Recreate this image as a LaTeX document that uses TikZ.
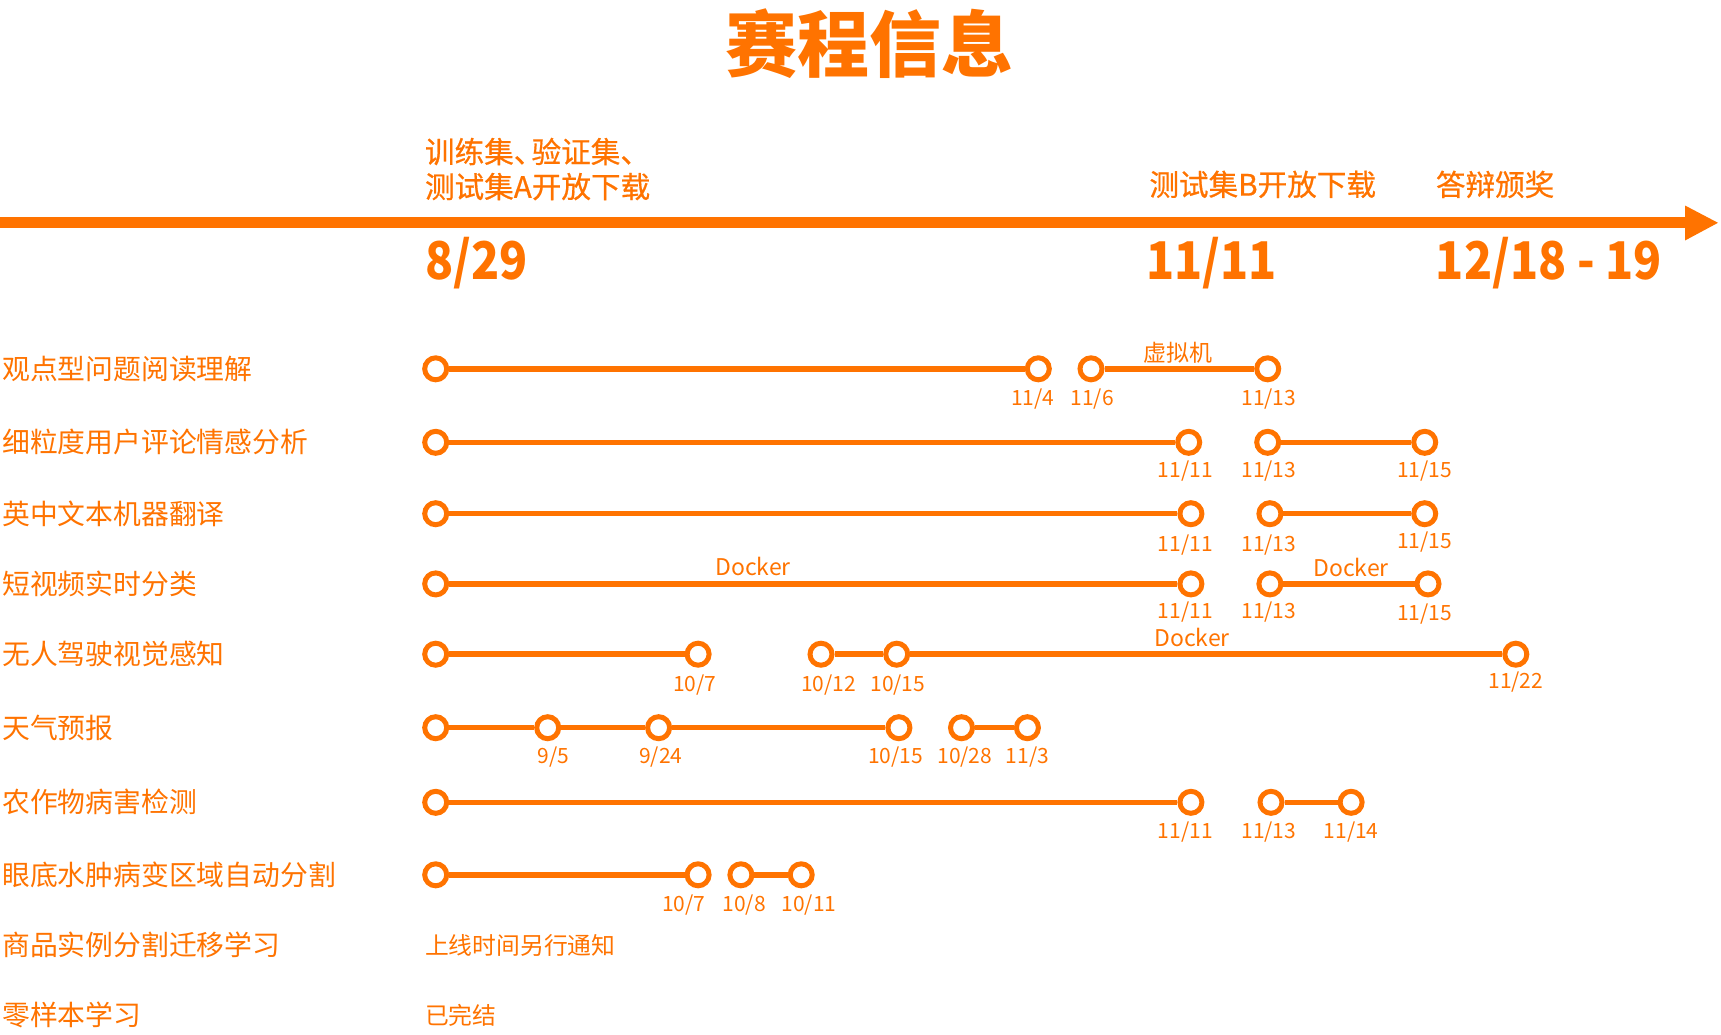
\documentclass[tikz,border=0pt]{standalone}
\usepackage{fontspec}
\setmainfont{Noto Sans CJK SC}
\newfontfamily\cjkmed{Noto Sans CJK SC}[FakeBold=0.6]
\definecolor{org}{RGB}{255,115,0}
\tikzset{
  dot/.style={circle, draw=org, line width=5pt, fill=white, minimum size=22pt, inner sep=0pt},
  seg/.style={draw=org, line width=5.5pt},
  rowlab/.style={anchor=west, inner sep=0pt, text=org, font=\fontsize{27.8}{30}\selectfont},
  headlab/.style={anchor=west, inner sep=0pt, text=org, font=\cjkmed\fontsize{29.6}{32}\selectfont},
  bigdate/.style={anchor=west, inner sep=0pt, text=org, font=\bfseries\fontsize{52}{56}\selectfont},
  datelab/.style={inner sep=0pt, text=org, font=\fontsize{21}{23}\selectfont},
  notelab/.style={inner sep=0pt, text=org, font=\fontsize{23}{25}\selectfont},
  statlab/.style={anchor=west, inner sep=0pt, text=org, font=\fontsize{23.8}{25}\selectfont},
}
\newcommand{\narrow}[1]{\scalebox{0.89}[1]{#1}}
\begin{document}
\begin{tikzpicture}[x=1pt,y=-1pt]
\useasboundingbox (0,0) rectangle (1721,1034);

% title
\node[inner sep=0pt, text=org, font=\bfseries\fontsize{72}{76}\selectfont] (title) at (869,44) {赛程信息};

% main timeline arrow
\coordinate (axs) at (0,222.8);
\coordinate (axe) at (1690,222.8);
\draw[org, line width=11pt] (axs) -- (axe);
\fill[org] (1685,205.5) -- (1718,222.8) -- (1685,240.5) -- cycle;

\node[headlab] (h1a) at (424.8,151.5) {训练集、\kern-0.4em 验证集、};
\node[headlab] (h1b) at (424.8,186.6) {测试集A开放下载};
\node[headlab] (h2) at (1149.2,184.4) {测试集B开放下载};
\node[headlab] (h3) at (1435.7,184.4) {答辩颁奖};

\node[bigdate] (d1) at (424.8,263.4) {\narrow{8/29}};
\node[bigdate] (d2) at (1145.9,263.4) {\narrow{11/11}};
\node[bigdate] (d3) at (1435.7,263.4) {\narrow{12/18 - 19}};

% row labels
\node[rowlab] (l1) at (2.2,368.8) {观点型问题阅读理解};
\node[rowlab] (l2) at (2.2,442.3) {细粒度用户评论情感分析};
\node[rowlab] (l3) at (2.2,513.7) {英中文本机器翻译};
\node[rowlab] (l4) at (2.2,583.9) {短视频实时分类};
\node[rowlab] (l5) at (2.2,654.2) {无人驾驶视觉感知};
\node[rowlab] (l6) at (2.2,727.7) {天气预报};
\node[rowlab] (l7) at (2.2,802.3) {农作物病害检测};
\node[rowlab] (l8) at (2.2,874.8) {眼底水肿病变区域自动分割};
\node[rowlab] (l9) at (2.2,945.0) {商品实例分割迁移学习};
\node[rowlab] (l10) at (2.2,1015.3) {零样本学习};

% row 1
\node[dot] (r1a) at (435.7,368.8) {};
\node[dot] (r1b) at (1038.3,368.8) {};
\node[dot] (r1c) at (1091.0,368.8) {};
\node[dot] (r1d) at (1267.7,368.8) {};
\draw[seg] (r1a) -- (r1b);
\draw[seg] (r1c) -- (r1d);
\node[datelab] (t1b) at (1032.8,399.5) {11/4};
\node[datelab] (t1c) at (1092.1,399.5) {11/6};
\node[datelab] (t1d) at (1268.8,399.5) {11/13};
\node[notelab] (n1) at (1177.7,352.3) {虚拟机};

% row 2
\node[dot] (r2a) at (435.7,442.3) {};
\node[dot] (r2b) at (1188.7,442.3) {};
\node[dot] (r2c) at (1267.7,442.3) {};
\node[dot] (r2d) at (1424.7,442.3) {};
\draw[seg] (r2a) -- (r2b);
\draw[seg] (r2c) -- (r2d);
\node[datelab] (t2b) at (1185.4,470.9) {11/11};
\node[datelab] (t2c) at (1268.8,470.9) {11/13};
\node[datelab] (t2d) at (1424.7,470.9) {11/15};

% row 3
\node[dot] (r3a) at (435.7,513.7) {};
\node[dot] (r3b) at (1190.9,513.7) {};
\node[dot] (r3c) at (1269.9,513.7) {};
\node[dot] (r3d) at (1424.7,513.7) {};
\draw[seg] (r3a) -- (r3b);
\draw[seg] (r3c) -- (r3d);
\node[datelab] (t3b) at (1185.4,545.5) {11/11};
\node[datelab] (t3c) at (1268.8,545.5) {11/13};
\node[datelab] (t3d) at (1424.7,542.5) {11/15};

% row 4
\node[dot] (r4a) at (435.7,583.9) {};
\node[dot] (r4b) at (1190.9,583.9) {};
\node[dot] (r4c) at (1269.9,583.9) {};
\node[dot] (r4d) at (1428.0,583.9) {};
\draw[seg] (r4a) -- (r4b);
\draw[seg] (r4c) -- (r4d);
\node[datelab] (t4b) at (1185.4,612.5) {11/11};
\node[datelab] (t4c) at (1268.8,612.5) {11/13};
\node[datelab] (t4d) at (1424.7,614.5) {11/15};
\node[notelab] (n4a) at (753,566.4) {Docker};
\node[notelab] (n4b) at (1351,567.5) {Docker};

% row 5
\node[dot] (r5a) at (435.7,654.2) {};
\node[dot] (r5b) at (698.1,654.2) {};
\node[dot] (r5c) at (821.0,654.2) {};
\node[dot] (r5d) at (896.7,654.2) {};
\node[dot] (r5e) at (1515.8,654.2) {};
\draw[seg] (r5a) -- (r5b);
\draw[seg] (r5c) -- (r5d);
\draw[seg] (r5d) -- (r5e);
\node[datelab] (t5b) at (694.8,684.9) {10/7};
\node[datelab] (t5c) at (828.7,684.9) {10/12};
\node[datelab] (t5d) at (897.8,684.9) {10/15};
\node[datelab] (t5e) at (1515.8,681.6) {11/22};
\node[notelab] (n5) at (1192,637.7) {Docker};

% row 6
\node[dot] (r6a) at (435.7,727.7) {};
\node[dot] (r6b) at (547.7,727.7) {};
\node[dot] (r6c) at (658.6,727.7) {};
\node[dot] (r6d) at (898.9,727.7) {};
\node[dot] (r6e) at (961.5,727.7) {};
\node[dot] (r6f) at (1027.4,727.7) {};
\draw[seg] (r6a) -- (r6b);
\draw[seg] (r6b) -- (r6c);
\draw[seg] (r6c) -- (r6d);
\draw[seg] (r6e) -- (r6f);
\node[datelab] (t6b) at (553.2,757.3) {9/5};
\node[datelab] (t6c) at (660.8,757.3) {9/24};
\node[datelab] (t6d) at (895.6,757.3) {10/15};
\node[datelab] (t6e) at (964.8,757.3) {10/28};
\node[datelab] (t6f) at (1027.4,757.3) {11/3};

% row 7
\node[dot] (r7a) at (435.7,802.3) {};
\node[dot] (r7b) at (1190.9,802.3) {};
\node[dot] (r7c) at (1271.0,802.3) {};
\node[dot] (r7d) at (1351.1,802.3) {};
\draw[seg] (r7a) -- (r7b);
\draw[seg] (r7c) -- (r7d);
\node[datelab] (t7b) at (1185.4,832.0) {11/11};
\node[datelab] (t7c) at (1268.8,832.0) {11/13};
\node[datelab] (t7d) at (1351.1,832.0) {11/14};

% row 8
\node[dot] (r8a) at (435.7,874.8) {};
\node[dot] (r8b) at (698.1,874.8) {};
\node[dot] (r8c) at (740.9,874.8) {};
\node[dot] (r8d) at (801.2,874.8) {};
\draw[seg] (r8a) -- (r8b);
\draw[seg] (r8c) -- (r8d);
\node[datelab] (t8b) at (683.8,905.5) {10/7};
\node[datelab] (t8c) at (744.2,905.5) {10/8};
\node[datelab] (t8d) at (808.9,905.5) {10/11};

% rows 9, 10
\node[statlab] (s9) at (424.8,945.0) {上线时间另行通知};
\node[statlab] (s10) at (424.8,1015.3) {已完结};
\end{tikzpicture}
\end{document}
